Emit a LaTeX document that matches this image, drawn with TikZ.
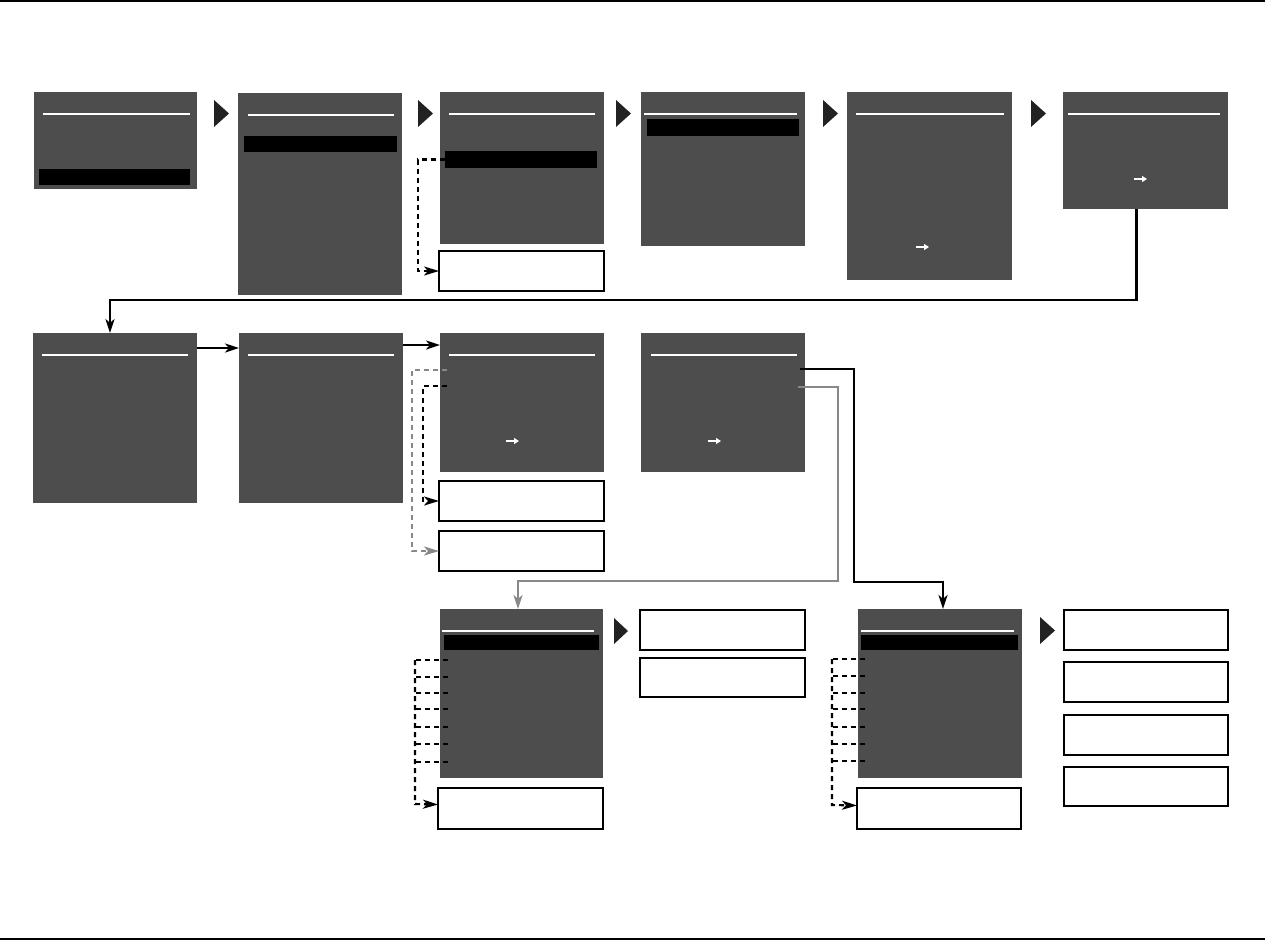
\documentclass[tikz,border=0pt]{standalone}
\usetikzlibrary{arrows.meta}
\definecolor{scr}{RGB}{77,77,77}
\definecolor{tricol}{RGB}{34,34,34}
\definecolor{lgray}{RGB}{136,136,136}
\begin{document}
\begin{tikzpicture}[x=1pt,y=-1pt,
  screen/.style={fill=scr,inner sep=0pt,outer sep=0pt,anchor=north west},
  selbar/.style={fill=black,inner sep=0pt,outer sep=0pt,anchor=north west},
  outbox/.style={draw=black,line width=1.4pt,fill=white,inner sep=0pt,outer sep=0pt,anchor=north west},
  titleline/.style={draw=white,line width=1.8pt},
  nexttri/.style={fill=tricol},
  mini/.style={draw=white,line width=1.5pt,-{Triangle[length=5pt,width=6pt]}},
  conn/.style={line width=2.4pt,-{Stealth[length=14pt,width=9pt,inset=4pt]}},
  dconn/.style={line width=2.1pt,dash pattern=on 5pt off 4pt,-{Stealth[length=15pt,width=9pt,inset=4pt]}},
  stub/.style={line width=2.1pt,dash pattern=on 5pt off 4pt},
  rule/.style={line width=1.3pt}
]
\useasboundingbox (0,0) rectangle (1265,940);
% page rules
\draw[rule] (0,1) -- (1265,1);
\draw[rule] (0,939) -- (1265,939);

% ---------- row 1 screens ----------
\node[screen,minimum width=163pt,minimum height=97pt] (S1) at (34,92) {};
\node[screen,minimum width=164pt,minimum height=202pt] (S2) at (238,93) {};
\node[screen,minimum width=164pt,minimum height=152pt] (S3) at (440,92) {};
\node[screen,minimum width=164pt,minimum height=154pt] (S4) at (641,92) {};
\node[screen,minimum width=165pt,minimum height=188pt] (S5) at (847,92) {};
\node[screen,minimum width=165pt,minimum height=117pt] (S6) at (1063,92) {};

\draw[titleline] (43,114) -- (190,114);
\draw[titleline] (248,115) -- (394,115);
\draw[titleline] (449,114) -- (595,114);
\draw[titleline] (644,114) -- (797,114);
\draw[titleline] (856,114) -- (1004,114);
\draw[titleline] (1068,114) -- (1220,114);

\node[selbar,minimum width=151pt,minimum height=16pt] (bar1) at (39,169) {};
\node[selbar,minimum width=153pt,minimum height=16pt] (bar2) at (244,136) {};
\node[selbar,minimum width=152pt,minimum height=17pt] (bar3) at (445,151) {};
\node[selbar,minimum width=152pt,minimum height=17pt] (bar4) at (647,119) {};

\draw[mini] (916,247) -- (929,247);
\draw[mini] (1134,179) -- (1147,179);

\fill[nexttri] (214,100) -- (229,113.5) -- (214,127) -- cycle;
\fill[nexttri] (418,100) -- (433,113.5) -- (418,127) -- cycle;
\fill[nexttri] (616,100) -- (631,113.5) -- (616,127) -- cycle;
\fill[nexttri] (823,100) -- (838,113.5) -- (823,127) -- cycle;
\fill[nexttri] (1031,100) -- (1046,113.5) -- (1031,127) -- cycle;

\node[outbox,minimum width=165pt,minimum height=40pt] (B3) at (439,251) {};
\draw[dconn] (bar3.west) -- (418,159.5) |- (B3.west);

% ---------- row 2 screens ----------
\node[screen,minimum width=164pt,minimum height=170pt] (S7) at (33,333) {};
\node[screen,minimum width=164pt,minimum height=170pt] (S8) at (239,333) {};
\node[screen,minimum width=164pt,minimum height=139pt] (S9) at (440,333) {};
\node[screen,minimum width=164pt,minimum height=139pt] (S10) at (641,333) {};

\draw[titleline] (42,355) -- (188,355);
\draw[titleline] (248,355) -- (394,355);
\draw[titleline] (449,355) -- (595,355);
\draw[titleline] (651,355) -- (797,355);

\draw[mini] (506,441) -- (519,441);
\draw[mini] (708,441) -- (721,441);

\node[outbox,minimum width=165pt,minimum height=40pt] (B9a) at (439,481) {};
\node[outbox,minimum width=165pt,minimum height=40pt] (B9b) at (439,531) {};

\draw[conn] ([xshift=-9pt]S6.south) -- ++(0,91) -| ([xshift=-5pt]S7.north);
\draw[conn] (S7.east |- 0,348) -- (S8.west |- 0,348);
\draw[conn] (S8.east |- 0,345) -- (S9.west |- 0,345);

\coordinate (g9) at (447,370);
\coordinate (k9) at (447,386);
\draw[dconn,lgray] (g9) -- (412,370) |- (B9b.west);
\draw[dconn] (k9) -- (423,386) |- (B9a.west);

% ---------- row 3 screens ----------
\node[screen,minimum width=163pt,minimum height=169pt] (S11) at (440,609) {};
\node[screen,minimum width=164pt,minimum height=169pt] (S12) at (858,609) {};
\draw[titleline] (442,631) -- (594,631);
\draw[titleline] (861,631) -- (1014,631);
\node[selbar,minimum width=155pt,minimum height=15pt] (bar11) at (444,635) {};
\node[selbar,minimum width=157pt,minimum height=15pt] (bar12) at (861,635) {};

\coordinate (k10) at (800,369);
\coordinate (g10) at (798,387);
\draw[conn,lgray] (g10) -- (838,387) -- (838,581) -| ([xshift=-3.5pt]S11.north);
\draw[conn] (k10) -- (854,369) -- (854,582) -| ([xshift=3pt]S12.north);

\node[outbox,minimum width=165pt,minimum height=41pt] (B11) at (438,788) {};
\node[outbox,minimum width=164pt,minimum height=41pt] (B12) at (857,788) {};

\node[outbox,minimum width=165pt,minimum height=40pt] (R11a) at (640,610) {};
\node[outbox,minimum width=165pt,minimum height=39pt] (R11b) at (640,658) {};
\node[outbox,minimum width=164pt,minimum height=40pt] (R12a) at (1064,610) {};
\node[outbox,minimum width=164pt,minimum height=40pt] (R12b) at (1064,662) {};
\node[outbox,minimum width=164pt,minimum height=40pt] (R12c) at (1064,715) {};
\node[outbox,minimum width=164pt,minimum height=39pt] (R12d) at (1064,767) {};

\fill[nexttri] (614,618) -- (628,631) -- (614,644) -- cycle;
\fill[nexttri] (1040,617) -- (1055,630.5) -- (1040,644) -- cycle;

% dashed stubs for S11
\foreach \yy in {660,677,693,709,727,744,762} {
  \draw[stub] (448,\yy) -- (415,\yy);
}
\draw[dconn] (415,660) -- (415,804) -- ([yshift=4pt]B11.west);
% dashed stubs for S12
\foreach \yy in {659,676,693,709,727,744,761} {
  \draw[stub] (865,\yy) -- (832,\yy);
}
\draw[dconn] (832,659) -- (832,805) -- ([yshift=3pt]B12.west);
\end{tikzpicture}
\end{document}
